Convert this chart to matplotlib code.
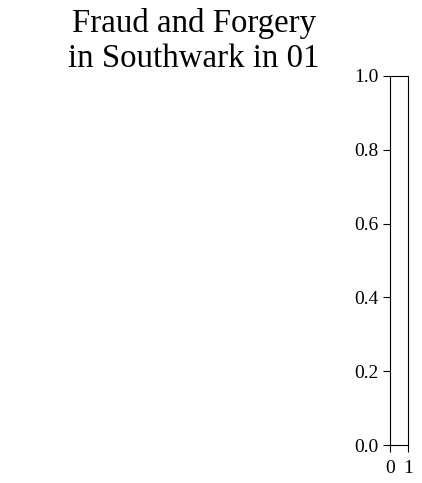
import matplotlib
matplotlib.use("Agg")
import matplotlib.pyplot as plt

title_lines = ["Fraud and Forgery", "in Southwark in 01"]
y_ticks = [0.0, 0.2, 0.4, 0.6, 0.8, 1.0]
y_tick_labels = ["0.0", "0.2", "0.4", "0.6", "0.8", "1.0"]
x_ticks = [0, 1]
x_tick_labels = ["0", "1"]

plt.rcParams['font.family'] = ['Liberation Serif', 'DejaVu Serif']

W, H = 422, 483
fig = plt.figure(figsize=(W/100, H/100), dpi=100)

ax = fig.add_axes([390/W, 1-445/H, 18/W, (445-76)/H])
ax.set_xlim(0, 1)
ax.set_ylim(0, 1)
ax.set_xticks(x_ticks)
ax.set_xticklabels(x_tick_labels)
ax.set_yticks(y_ticks)
ax.set_yticklabels(y_tick_labels)
ax.tick_params(labelsize=14, length=5)
ax.tick_params(axis='x', pad=6)

fig.text(194/W, 1-67/H, "\n".join(title_lines), ha='center', va='baseline',
         fontsize=23.7, linespacing=1.2)

fig.savefig("out.png", dpi=100)
